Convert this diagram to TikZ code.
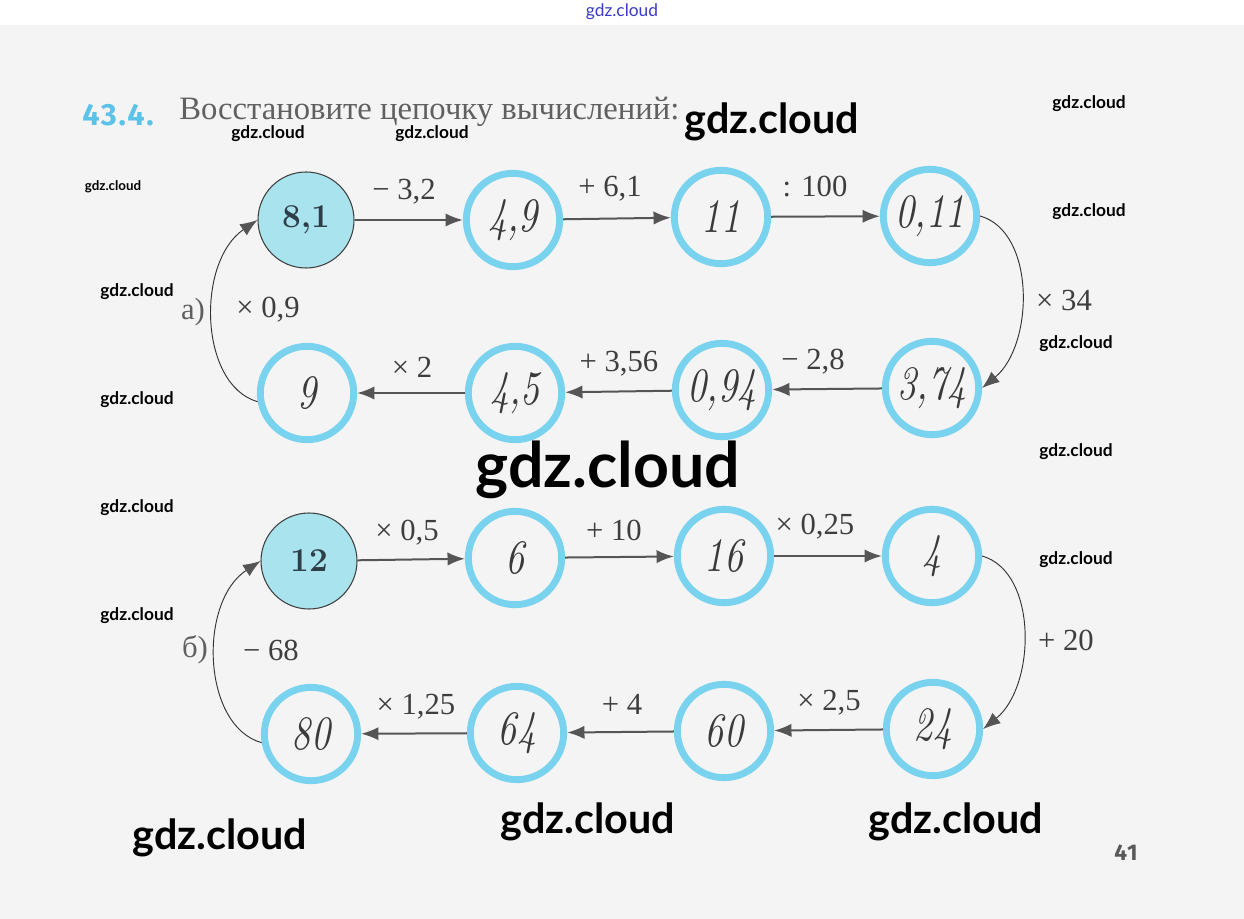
\documentclass[tikz,border=0pt]{standalone}
\usepackage{fontspec}
\usetikzlibrary{arrows.meta}
\newfontfamily\cyrfont{Liberation Serif}
\newfontfamily\wmfont{Lato}
\newfontfamily\hdfont[LetterSpace=6]{Fira Sans}
\newfontfamily\handfont[FakeStretch=0.78]{lmroman10-italic.otf}
\definecolor{bg}{HTML}{F4F4F4}
\definecolor{ring}{HTML}{79D3EE}
\definecolor{fillc}{HTML}{A8E3EE}
\definecolor{arr}{HTML}{555555}
\definecolor{lbl}{HTML}{3E3E3E}
\definecolor{hand}{HTML}{3A3A3A}
\definecolor{numblue}{HTML}{5CC3E8}
\definecolor{wmblue}{HTML}{3A3AC8}
\definecolor{ttl}{HTML}{606060}
\definecolor{startx}{HTML}{2E3E48}
\tikzset{
  ringnode/.style={circle, draw=ring, line width=5.2pt, minimum size=70pt, inner sep=0pt,
    text=hand, font=\handfont\fontsize{36}{36}\selectfont},
  startnode/.style={circle, draw=black!75, line width=0.8pt, fill=fillc, minimum size=72pt, inner sep=0pt,
    text=startx, font=\fontsize{25}{25}\selectfont\bfseries},
  oplbl/.style={text=lbl, font=\cyrfont\fontsize{23}{23}\selectfont, inner sep=0pt},
  link/.style={draw=arr, line width=1.5pt, -{Latex[length=13pt,width=10pt]}},
  loopline/.style={draw=black!80, line width=0.7pt, -{Latex[length=13pt,width=10pt,color=arr,fill=arr]}},
  wm/.style={text=black, font=\wmfont\bfseries\fontsize{#1}{#1}\selectfont, inner sep=0pt},
}
\begin{document}
\begin{tikzpicture}[x=0.75pt,y=-0.75pt]
\useasboundingbox (0,0) rectangle (1244,919);
\fill[white] (0,0) rectangle (1244,25);
\fill[bg] (0,25) rectangle (1244,919);

% title
\node[anchor=west, text=numblue, font=\hdfont\bfseries\fontsize{23}{23}\selectfont, inner sep=0pt] (num) at (82,115) {43.4.};
\node[anchor=base west, text=ttl, font=\cyrfont\fontsize{24.5}{24.5}\selectfont, inner sep=0pt] (title) at (179,120) {Восстановите цепочку вычислений:};

% part a
\node[startnode] (a1) at (306,220) {8,1};
\node[ringnode] (a2) at (513,220) {4,9};
\node[ringnode] (a3) at (721,217) {11};
\node[ringnode] (a4) at (930,216) {0,11};
\node[ringnode] (a5) at (932,388) {3,74};
\node[ringnode] (a6) at (722,390) {0,94};
\node[ringnode] (a7) at (515,393) {4,5};
\node[ringnode] (a8) at (307,393) {9};

\draw[link] (a1) -- (a2);
\draw[link] (a2) -- (a3);
\draw[link] (a3) -- (a4);
\draw[loopline] (a4.east) .. controls (1036,232) and (1034,345) .. (a5.east);
\draw[link] (a5) -- (a6);
\draw[link] (a6) -- (a7);
\draw[link] (a7) -- (a8);
\draw[loopline] (a8.190) .. controls (199,385) and (196,262) .. (a1.west);

\node[oplbl] (la1) at (404,192) {− 3,2};
\node[oplbl] (la2) at (610,189) {+ 6,1};
\node[oplbl] (la3) at (815,187) {: 100};
\node[oplbl] (la4) at (1064,300) {× 34};
\node[oplbl] (la5) at (813,362) {− 2,8};
\node[oplbl] (la6) at (619,364) {+ 3,56};
\node[oplbl] (la7) at (412,367) {× 2};
\node[oplbl] (la8) at (268,310) {× 0,9};
\node[oplbl, text=ttl] (pa) at (193,312) {а)};

% part b
\node[startnode] (b1) at (309,561) {12};
\node[ringnode] (b2) at (515,558) {6};
\node[ringnode] (b3) at (724,556) {16};
\node[ringnode] (b4) at (932,556) {4};
\node[ringnode] (b5) at (933,729) {24};
\node[ringnode] (b6) at (724,731) {60};
\node[ringnode] (b7) at (517,733) {64};
\node[ringnode] (b8) at (311,734) {80};

\draw[link] (b1) -- (b2);
\draw[link] (b2) -- (b3);
\draw[link] (b3) -- (b4);
\draw[loopline] (b4.east) .. controls (1038,572) and (1036,686) .. (b5.east);
\draw[link] (b5) -- (b6);
\draw[link] (b6) -- (b7);
\draw[link] (b7) -- (b8);
\draw[loopline] (b8.190) .. controls (202,726) and (198,602) .. (b1.west);

\node[oplbl] (lb1) at (407,533) {× 0,5};
\node[oplbl] (lb2) at (614,530) {+ 10};
\node[oplbl] (lb3) at (815,527) {× 0,25};
\node[oplbl] (lb4) at (1066,640) {+ 20};
\node[oplbl] (lb5) at (829,703) {× 2,5};
\node[oplbl] (lb6) at (622,704) {+ 4};
\node[oplbl] (lb7) at (416,707) {× 1,25};
\node[oplbl] (lb8) at (271,650) {− 68};
\node[oplbl, text=ttl] (pb) at (195,650) {б)};

% page number
\node[text=black!65, font=\hdfont\bfseries\fontsize{17}{17}\selectfont, inner sep=0pt] (page) at (1126,853) {41};

% watermarks
\node[text=wmblue, font=\wmfont\fontsize{13}{13}\selectfont, inner sep=0pt] (w0) at (622,12) {gdz.cloud};
\node[wm=13] (w1) at (1089,104) {gdz.cloud};
\node[wm=13] (w2) at (268,134) {gdz.cloud};
\node[wm=13] (w3) at (432,134) {gdz.cloud};
\node[wm=31] (w4) at (772,122) {gdz.cloud};
\node[wm=10] (w5) at (113,187) {gdz.cloud};
\node[wm=13] (w6) at (1089,212) {gdz.cloud};
\node[wm=13] (w7) at (137,292) {gdz.cloud};
\node[wm=13] (w8) at (1076,344) {gdz.cloud};
\node[wm=13] (w9) at (137,400) {gdz.cloud};
\node[wm=47] (w10) at (608,470) {gdz.cloud};
\node[wm=13] (w11) at (1076,452) {gdz.cloud};
\node[wm=13] (w12) at (137,508) {gdz.cloud};
\node[wm=13] (w13) at (1076,560) {gdz.cloud};
\node[wm=13] (w14) at (137,616) {gdz.cloud};
\node[wm=31] (w15) at (220,838) {gdz.cloud};
\node[wm=31] (w16) at (588,822) {gdz.cloud};
\node[wm=31] (w17) at (956,822) {gdz.cloud};
\end{tikzpicture}
\end{document}
